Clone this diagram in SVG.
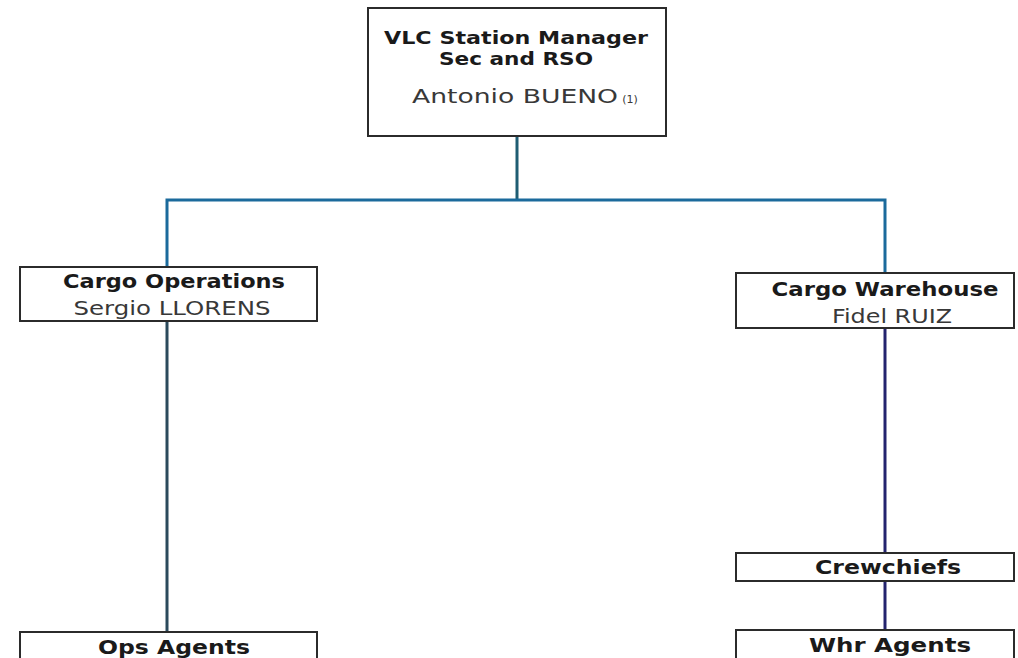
<svg xmlns="http://www.w3.org/2000/svg" width="1018" height="658" viewBox="0 0 1018 658">
  <style>
    .box { fill: #ffffff; stroke: #2b2b2b; stroke-width: 2; }
    .title { font-family: "DejaVu Sans", "Liberation Sans", sans-serif; font-weight: 700; fill: #1a1a1a; text-anchor: middle; }
    .name { font-family: "DejaVu Sans", "Liberation Sans", sans-serif; font-weight: 400; fill: #383838; text-anchor: middle; }
  </style>
  <rect width="1018" height="658" fill="#ffffff"/>

  <!-- connectors -->
  <g id="connectors" fill="none" stroke-width="3">
    <path d="M517 136 V200" stroke="#1f5d73"/>
    <path d="M167 268 V200 H885 V273" stroke="#1b6a9c"/>
    <path d="M167 321 V632" stroke="#2b4a5c"/>
    <path d="M885 328 V553" stroke="#24246e"/>
    <path d="M885 581 V630" stroke="#24246e"/>
  </g>

  <g id="station-manager">
    <rect class="box" x="368" y="8" width="298" height="128"/>
    <text class="title" x="516" y="44" font-size="18" textLength="264" lengthAdjust="spacingAndGlyphs">VLC Station Manager</text>
    <text class="title" x="516" y="65" font-size="18" textLength="154" lengthAdjust="spacingAndGlyphs">Sec and RSO</text>
    <text class="name" x="515" y="103" font-size="20" textLength="206" lengthAdjust="spacingAndGlyphs">Antonio  BUENO</text>
    <text class="name" x="630" y="103" font-size="11">(1)</text>
  </g>

  <g id="cargo-operations">
    <rect class="box" x="20" y="267" width="297" height="54"/>
    <text class="title" x="174" y="288" font-size="20" textLength="222" lengthAdjust="spacingAndGlyphs">Cargo Operations</text>
    <text class="name" x="172" y="315" font-size="20" textLength="197" lengthAdjust="spacingAndGlyphs">Sergio LLORENS</text>
  </g>

  <g id="cargo-warehouse">
    <rect class="box" x="736" y="273" width="278" height="55"/>
    <text class="title" x="885" y="296" font-size="20" textLength="227" lengthAdjust="spacingAndGlyphs">Cargo Warehouse</text>
    <text class="name" x="892" y="323" font-size="20" textLength="120" lengthAdjust="spacingAndGlyphs">Fidel RUIZ</text>
  </g>

  <g id="crewchiefs">
    <rect class="box" x="736" y="553" width="278" height="28"/>
    <text class="title" x="888" y="574" font-size="20" textLength="146" lengthAdjust="spacingAndGlyphs">Crewchiefs</text>
  </g>

  <g id="ops-agents">
    <rect class="box" x="20" y="632" width="297" height="40"/>
    <text class="title" x="174" y="654" font-size="20" textLength="152" lengthAdjust="spacingAndGlyphs">Ops Agents</text>
  </g>

  <g id="whr-agents">
    <rect class="box" x="736" y="630" width="278" height="40"/>
    <text class="title" x="890" y="652" font-size="20" textLength="162" lengthAdjust="spacingAndGlyphs">Whr  Agents</text>
  </g>
</svg>
